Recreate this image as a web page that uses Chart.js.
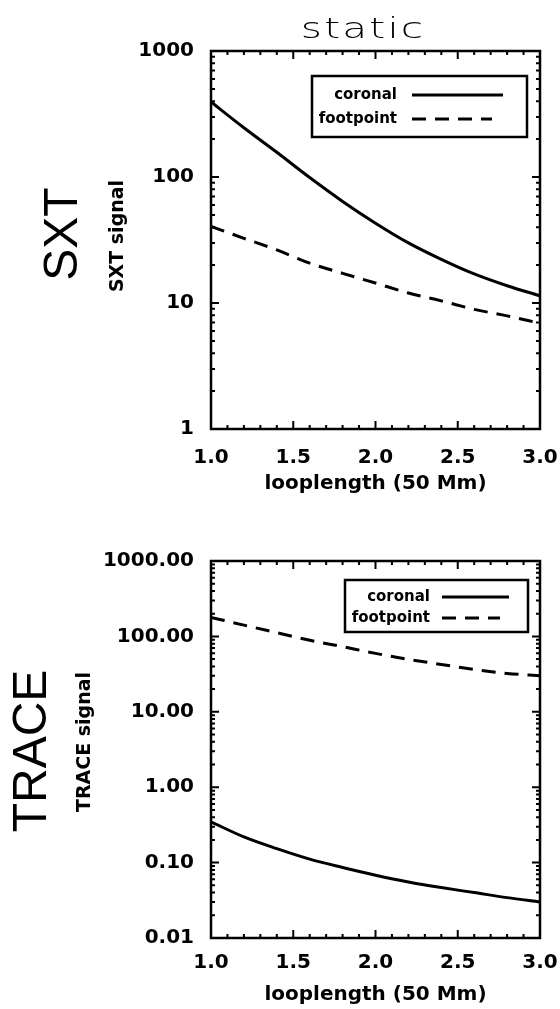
<!DOCTYPE html>
<html>
<head>
<meta charset="utf-8">
<script src="https://cdn.jsdelivr.net/npm/chart.js@4.4.1/dist/chart.umd.min.js"></script>
<style>
  html, body { margin: 0; padding: 0; background: #fff; }
  .panel { position: absolute; left: 0; width: 560px; }
  #p1 { top: 0; height: 500px; }
  #p2 { top: 500px; height: 509px; }
</style>
</head>
<body>
<div class="panel" id="p1"><canvas id="sxt"></canvas></div>
<div class="panel" id="p2"><canvas id="trace"></canvas></div>
<script>
// values
const looplength = [1.0, 1.2, 1.4, 1.6, 1.8, 2.0, 2.2, 2.4, 2.6, 2.8, 3.0];
const sxtCoronal = [394, 246, 157, 99, 64, 43, 30, 22.2, 17, 13.7, 11.4];
const sxtFootpoint = [40.6, 32.6, 26.4, 20.7, 17.2, 14.4, 12.0, 10.4, 8.9, 7.9, 6.9];
const traceCoronal = [0.347, 0.219, 0.153, 0.111, 0.086, 0.068, 0.0553, 0.0466, 0.040, 0.0343, 0.030];
const traceFootpoint = [179, 141, 112, 89, 73, 59.5, 49.5, 42.5, 36.5, 32.3, 30];

const xTicks = [1.0, 1.5, 2.0, 2.5, 3.0];
const sxtTicks = [1, 10, 100, 1000];
const traceTicks = [0.01, 0.1, 1, 10, 100, 1000];
const seriesNames = ['coronal', 'footpoint'];

const FONT = 'DejaVu Sans';

function verticalText(ctx, text, x, y, font) {
    ctx.save();
    ctx.translate(x, y);
    ctx.rotate(-Math.PI / 2);
    ctx.font = font;
    ctx.textAlign = 'center';
    ctx.textBaseline = 'middle';
    ctx.fillText(text, 0, 0);
    ctx.restore();
}

// IDL style frame: box + inward ticks on all four sides
const idlFrame = {
    id: 'idlFrame',
    afterDatasetsDraw(chart) {
        const { ctx, chartArea: a, scales: { x, y } } = chart;
        ctx.save();
        ctx.strokeStyle = '#000';
        ctx.lineWidth = 2;
        ctx.beginPath();
        for (let i = 0; i <= 20; i++) {
            const px = x.getPixelForValue(x.min + i * (x.max - x.min) / 20);
            const len = i % 5 === 0 ? 8 : 4;
            ctx.moveTo(px, a.bottom); ctx.lineTo(px, a.bottom - len);
            ctx.moveTo(px, a.top); ctx.lineTo(px, a.top + len);
        }
        const d0 = Math.round(Math.log10(y.min));
        const d1 = Math.round(Math.log10(y.max));
        for (let d = d0; d < d1; d++) {
            for (let k = 1; k <= 9; k++) {
                const py = y.getPixelForValue(k * Math.pow(10, d));
                const len = k === 1 ? 8 : 4;
                ctx.moveTo(a.left, py); ctx.lineTo(a.left + len, py);
                ctx.moveTo(a.right, py); ctx.lineTo(a.right - len, py);
            }
        }
        ctx.stroke();
        ctx.lineWidth = 2.5;
        ctx.strokeRect(a.left, a.top, a.right - a.left, a.bottom - a.top);
        ctx.restore();
    }
};

// titles and the boxed legend
const idlText = {
    id: 'idlText',
    afterDraw(chart, args, opts) {
        const ctx = chart.ctx;
        ctx.save();
        ctx.fillStyle = '#000';
        if (opts.title) {
            // wide, thin lettering like the IDL vector font
            ctx.save();
            ctx.translate(opts.titleX, opts.titleY);
            ctx.scale(1.45, 1);
            ctx.font = `200 28px ${FONT}`;
            ctx.letterSpacing = '1.5px';
            ctx.textAlign = 'center';
            ctx.textBaseline = 'alphabetic';
            ctx.fillText(opts.title, 0.75, 0);
            ctx.restore();
        }
        verticalText(ctx, opts.big, opts.bigX, opts.bigY, '48px "Liberation Sans"');
        verticalText(ctx, opts.small, opts.smallX, opts.smallY, `bold 19px ${FONT}`);

        const L = opts.legend;
        ctx.strokeStyle = '#000';
        ctx.lineWidth = 2.5;
        ctx.strokeRect(L.left, L.top, L.right - L.left, L.bottom - L.top);
        ctx.font = `bold 15px ${FONT}`;
        ctx.textAlign = 'right';
        ctx.textBaseline = 'middle';
        chart.data.datasets.forEach((ds, i) => {
            const yy = L.rows[i];
            ctx.fillText(ds.label, L.textRight, yy);
            ctx.beginPath();
            ctx.lineWidth = ds.borderWidth;
            ctx.setLineDash(ds.borderDash || []);
            ctx.moveTo(L.lineStart, yy);
            ctx.lineTo(L.lineEnds[i], yy);
            ctx.stroke();
            ctx.setLineDash([]);
        });
        ctx.restore();
    }
};

function makeChart(canvasId, coronal, footpoint, yMin, yMax, yTickValues, yDecimals, layout, textOpts) {
    return new Chart(document.getElementById(canvasId), {
        type: 'line',
        data: {
            datasets: [
                {
                    label: seriesNames[0],
                    data: looplength.map((x, i) => ({ x, y: coronal[i] })),
                    borderColor: '#000',
                    borderWidth: 3,
                    pointRadius: 0,
                    cubicInterpolationMode: 'monotone'
                },
                {
                    label: seriesNames[1],
                    data: looplength.map((x, i) => ({ x, y: footpoint[i] })),
                    borderColor: '#000',
                    borderWidth: 3,
                    borderDash: [14, 9],
                    pointRadius: 0,
                    cubicInterpolationMode: 'monotone'
                }
            ]
        },
        options: {
            responsive: true,
            maintainAspectRatio: false,
            animation: false,
            events: [],
            layout: {
                autoPadding: false,
                padding: { top: layout.top, right: 20, left: 0, bottom: 0 }
            },
            plugins: {
                legend: { display: false },
                tooltip: { enabled: false },
                idlText: textOpts
            },
            scales: {
                x: {
                    type: 'linear',
                    min: 1,
                    max: 3,
                    // fixed plot box: ignore label overhang
                    afterFit: s => { s.height = 71; s.paddingLeft = 0; s.paddingRight = 0; },
                    afterBuildTicks: s => { s.ticks = xTicks.map(v => ({ value: v })); },
                    grid: { display: false },
                    border: { display: false },
                    ticks: {
                        color: '#000',
                        padding: layout.xPad,
                        maxRotation: 0,
                        autoSkip: false,
                        font: { family: FONT, size: 20, weight: 'bold' },
                        callback: v => Number(v).toFixed(1)
                    },
                    title: {
                        display: true,
                        text: 'looplength (50 Mm)',
                        color: '#000',
                        font: { family: FONT, size: 20, weight: 'bold' },
                        padding: { top: 0, bottom: layout.titlePad }
                    }
                },
                y: {
                    type: 'logarithmic',
                    min: yMin,
                    max: yMax,
                    afterFit: s => { s.width = 211; s.paddingTop = 0; s.paddingBottom = 0; },
                    afterBuildTicks: s => { s.ticks = yTickValues.map(v => ({ value: v })); },
                    grid: { display: false },
                    border: { display: false },
                    ticks: {
                        color: '#000',
                        padding: 9,
                        autoSkip: false,
                        font: { family: FONT, size: 20, weight: 'bold' },
                        callback: v => yDecimals ? Number(v).toFixed(yDecimals) : String(v)
                    }
                }
            }
        },
        plugins: [idlFrame, idlText]
    });
}

makeChart('sxt', sxtCoronal, sxtFootpoint, 1, 1000, sxtTicks, 0,
    { top: 51, xPad: 9, titlePad: 4 },
    {
        title: 'static', titleX: 362, titleY: 38,
        big: 'SXT', bigX: 64, bigY: 234,
        small: 'SXT signal', smallX: 118, smallY: 236,
        legend: {
            left: 312, right: 527, top: 76, bottom: 137,
            textRight: 397, rows: [95, 119],
            lineStart: 412, lineEnds: [503, 492]
        }
    });

makeChart('trace', traceCoronal, traceFootpoint, 0.01, 1000, traceTicks, 2,
    { top: 61, xPad: 5, titlePad: 2 },
    {
        big: 'TRACE', bigX: 33, bigY: 251,
        small: 'TRACE signal', smallX: 85, smallY: 242,
        legend: {
            left: 345, right: 528, top: 80, bottom: 132,
            textRight: 430, rows: [97, 118],
            lineStart: 442, lineEnds: [509, 500]
        }
    });
</script>
</body>
</html>
